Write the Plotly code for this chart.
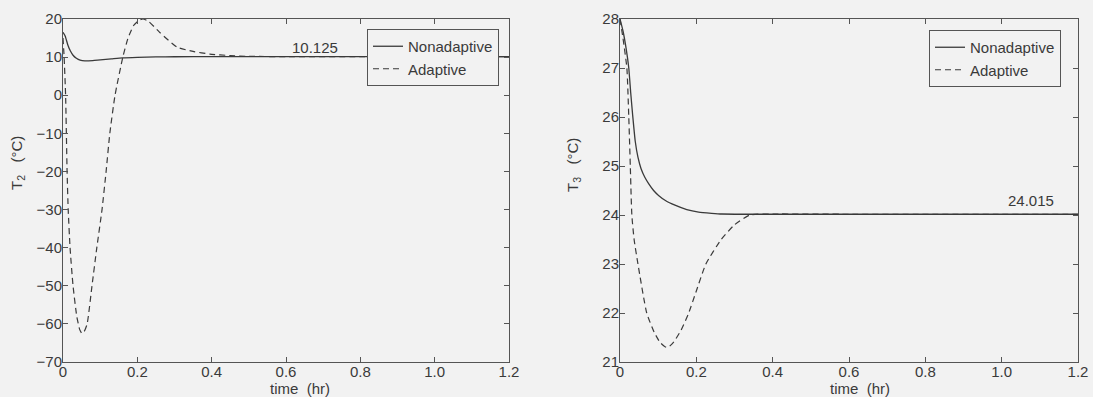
import plotly.graph_objects as go

# ---------------- data ----------------
# Left panel: T2
t2_nonadaptive = [0, 0.006, 0.013, 0.02, 0.027, 0.036, 0.046, 0.059, 0.08, 0.1, 0.13, 0.16,
                  0.2, 0.25, 0.3, 0.4, 0.6, 0.8, 1.0, 1.2]
T2_nonadaptive = [16.5, 15.5, 13.2, 11.6, 10.5, 9.7, 9.2, 9.0, 9.1, 9.3, 9.55, 9.8,
                  9.95, 10.05, 10.1, 10.12, 10.125, 10.125, 10.125, 10.125]

t2_adaptive = [0, 0.003, 0.007, 0.011, 0.014, 0.019, 0.027, 0.037, 0.045, 0.051, 0.057, 0.065,
               0.078, 0.091, 0.105, 0.116, 0.126, 0.14, 0.161, 0.175, 0.19, 0.205, 0.215,
               0.23, 0.26, 0.307, 0.35, 0.395, 0.45, 0.5, 0.6, 0.8, 1.0, 1.2]
T2_adaptive = [15, 10, 0, -20, -30, -40, -50, -58, -61.5, -62.5, -62, -60,
               -50, -40, -30, -20, -10, 0, 10, 15, 18.3, 19.7, 20,
               19.4, 16.5, 12.6, 11.5, 10.8, 10.4, 10.2, 10.13, 10.125, 10.125, 10.125]

# Right panel: T3
t3_nonadaptive = [0, 0.008, 0.016, 0.023, 0.028, 0.033, 0.04, 0.047, 0.055, 0.065, 0.075,
                  0.088, 0.101, 0.12, 0.144, 0.175, 0.206, 0.24, 0.267, 0.35, 0.4, 0.6,
                  0.8, 1.0, 1.2]
T3_nonadaptive = [28, 27.75, 27.4, 27.0, 26.5, 26.05, 25.5, 25.18, 24.95, 24.77, 24.64,
                  24.5, 24.4, 24.29, 24.2, 24.11, 24.06, 24.035, 24.02, 24.015, 24.015, 24.015,
                  24.015, 24.015, 24.015]

t3_adaptive = [0, 0.008, 0.018, 0.023, 0.027, 0.031, 0.037, 0.047, 0.07, 0.09, 0.105, 0.118,
               0.126, 0.14, 0.16, 0.18, 0.2, 0.225, 0.265, 0.3, 0.34, 0.4, 0.6, 0.8, 1.0, 1.2]
T3_adaptive = [28, 27.6, 27.0, 26.0, 25.0, 24.0, 23.5, 23.0, 22.0, 21.6, 21.4, 21.31,
               21.3, 21.4, 21.65, 22.0, 22.45, 23.0, 23.5, 23.8, 24.0, 24.02, 24.015, 24.015,
               24.015, 24.015]

x_tickvals = [0, 0.2, 0.4, 0.6, 0.8, 1.0, 1.2]
x_ticktext = ["0", "0.2", "0.4", "0.6", "0.8", "1.0", "1.2"]
y2_tickvals = [20, 10, 0, -10, -20, -30, -40, -50, -60, -70]
y3_tickvals = [28, 27, 26, 25, 24, 23, 22, 21]

# ---------------- style ----------------
W, H = 1093, 397
BG = "#f2f2f2"
INK = "#3a3a3a"
FONT = "Liberation Sans, Arial, sans-serif"
DASH = "6px,4px"


def px_x(p):
    return p / W


def px_y(p):
    return 1 - p / H


fig = go.Figure()

fig.add_trace(go.Scatter(x=t2_nonadaptive, y=T2_nonadaptive, mode="lines", name="Nonadaptive",
                         line=dict(color=INK, width=1.3, shape="spline", smoothing=0.5),
                         xaxis="x", yaxis="y", legend="legend"))
fig.add_trace(go.Scatter(x=t2_adaptive, y=T2_adaptive, mode="lines", name="Adaptive",
                         line=dict(color=INK, width=1.2, dash=DASH, shape="spline", smoothing=0.5),
                         xaxis="x", yaxis="y", legend="legend"))
fig.add_trace(go.Scatter(x=t3_nonadaptive, y=T3_nonadaptive, mode="lines", name="Nonadaptive",
                         line=dict(color=INK, width=1.3, shape="spline", smoothing=0.5),
                         xaxis="x2", yaxis="y2", legend="legend2"))
fig.add_trace(go.Scatter(x=t3_adaptive, y=T3_adaptive, mode="lines", name="Adaptive",
                         line=dict(color=INK, width=1.2, dash=DASH, shape="spline", smoothing=0.5),
                         xaxis="x2", yaxis="y2", legend="legend2"))

axis_common = dict(showgrid=False, zeroline=False, showline=True, linecolor="#555555",
                   linewidth=1, mirror="ticks", ticks="inside", ticklen=5, tickcolor="#555555",
                   automargin=False,
                   tickfont=dict(family=FONT, size=15, color=INK))

ydom = [px_y(362), px_y(19)]

legend_common = dict(xanchor="left", yanchor="top", bgcolor=BG, bordercolor="#555555",
                     borderwidth=1, font=dict(family=FONT, size=15, color=INK),
                     tracegroupgap=0, itemwidth=30)

fig.update_layout(
    width=W, height=H,
    margin=dict(l=0, r=0, t=0, b=0, pad=0),
    paper_bgcolor=BG, plot_bgcolor=BG,
    font=dict(family=FONT, size=15, color=INK),
    xaxis=dict(domain=[px_x(63), px_x(509)], range=[0, 1.2], tickvals=x_tickvals,
               ticktext=x_ticktext, anchor="y", ticklabelstandoff=-4, **axis_common),
    yaxis=dict(domain=ydom, range=[-70, 20], tickvals=y2_tickvals, anchor="x",
               ticklabelstandoff=-3, **axis_common),
    xaxis2=dict(domain=[px_x(620), px_x(1078)], range=[0, 1.2], tickvals=x_tickvals,
                ticktext=x_ticktext, anchor="y2", ticklabelstandoff=-4, **axis_common),
    yaxis2=dict(domain=ydom, range=[21, 28], tickvals=y3_tickvals, anchor="x2",
                ticklabelstandoff=-3, **axis_common),
    legend=dict(x=px_x(367), y=px_y(29), **legend_common),
    legend2=dict(x=px_x(929), y=px_y(30), **legend_common),
    showlegend=True,
)

TF = dict(family=FONT, size=15, color=INK)
annos = [
    dict(text="10.125", x=0.678, y=12.65, xref="x", yref="y", showarrow=False,
         xanchor="center", yanchor="middle", font=TF),
    dict(text="24.015", x=1.077, y=24.29, xref="x2", yref="y2", showarrow=False,
         xanchor="center", yanchor="middle", font=TF),
    dict(text="T<sub>2</sub>\u00a0\u00a0\u00a0(°C)", x=px_x(17), y=px_y(163), xref="paper",
         yref="paper", textangle=-90, showarrow=False, xanchor="center", yanchor="middle", font=TF),
    dict(text="T<sub>3</sub>\u00a0\u00a0\u00a0(°C)", x=px_x(573), y=px_y(165), xref="paper",
         yref="paper", textangle=-90, showarrow=False, xanchor="center", yanchor="middle", font=TF),
    dict(text="time\u00a0\u00a0(hr)", x=px_x(300), y=px_y(388), xref="paper", yref="paper",
         showarrow=False, xanchor="center", yanchor="middle", font=TF),
    dict(text="time\u00a0\u00a0(hr)", x=px_x(860), y=px_y(388), xref="paper", yref="paper",
         showarrow=False, xanchor="center", yanchor="middle", font=TF),
]
fig.update_layout(annotations=annos)

fig.write_html("out.html")
